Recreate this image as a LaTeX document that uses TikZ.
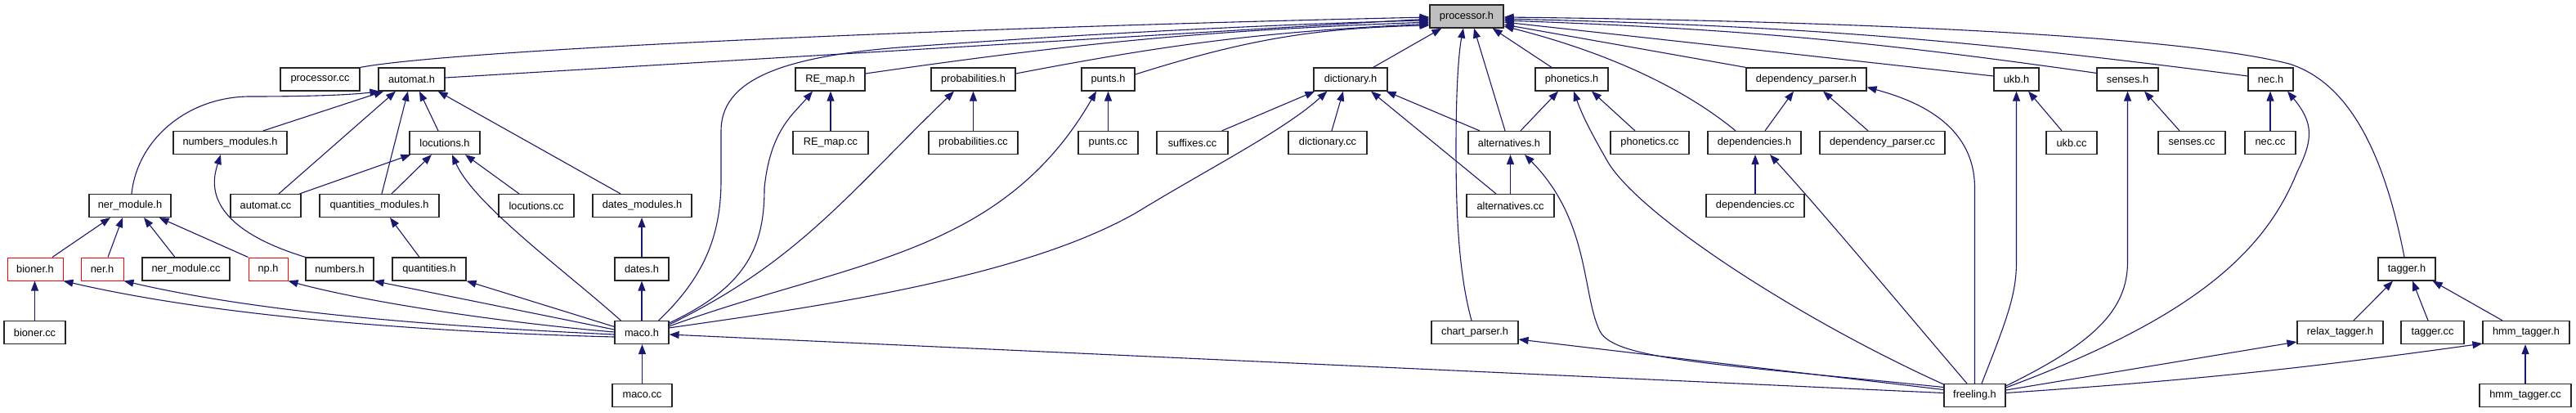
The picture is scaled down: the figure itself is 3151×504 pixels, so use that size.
\documentclass[tikz,border=0pt]{standalone}
\usepackage{fontspec}
\setmainfont{Liberation Sans}
\usetikzlibrary{arrows.meta}
\definecolor{edgeblue}{RGB}{25,25,112}
\definecolor{boxgray}{RGB}{191,191,191}
\newcommand\nodefont{\fontsize{12.8}{15}\selectfont}
\tikzset{
  box/.style={draw=black!85, line width=1.2pt, fill=white, minimum height=28pt, inner sep=0pt, font=\nodefont},
  redbox/.style={box, draw=red, line width=1pt},
  mainbox/.style={box, fill=boxgray},
  edge/.style={draw=edgeblue, line width=1.1pt, -{Triangle[length=12pt,width=9pt]}}
}
\begin{document}
\begin{tikzpicture}[x=1pt,y=-1pt]
\fill[white] (0,0) rectangle (3151,504);
\useasboundingbox (0,0) rectangle (3151,504);
% row 0
\node[mainbox, minimum width=90pt] (proch) at (1794,20) {processor.h};
% row 1
\node[box, minimum width=97pt] (proccc) at (391.5,97) {processor.cc};
\node[box, minimum width=81pt] (automath) at (503.5,97) {automat.h};
\node[box, minimum width=85pt] (REh) at (1015.5,97) {RE\_map.h};
\node[box, minimum width=103pt] (probh) at (1190.5,97) {probabilities.h};
\node[box, minimum width=65pt] (puntsh) at (1355.5,97) {punts.h};
\node[box, minimum width=90pt] (dicth) at (1652,97) {dictionary.h};
\node[box, minimum width=89pt] (phonh) at (1922.5,97) {phonetics.h};
\node[box, minimum width=147pt] (dpph) at (2209.5,97) {dependency\_parser.h};
\node[box, minimum width=55pt] (ukbh) at (2466.5,97) {ukb.h};
\node[box, minimum width=75pt] (sensh) at (2602.5,97) {senses.h};
\node[box, minimum width=55pt] (nech) at (2777.5,97) {nec.h};
% row 2
\node[box, minimum width=139pt] (numm) at (281.5,174.5) {numbers\_modules.h};
\node[box, minimum width=86pt] (loch) at (544,174.5) {locutions.h};
\node[box, minimum width=92pt] (REcc) at (1016,174.5) {RE\_map.cc};
\node[box, minimum width=109pt] (probcc) at (1190.5,174.5) {probabilities.cc};
\node[box, minimum width=73pt] (puntscc) at (1355.5,174.5) {punts.cc};
\node[box, minimum width=87pt] (suffcc) at (1458.5,174.5) {suffixes.cc};
\node[box, minimum width=96pt] (dictcc) at (1624,174.5) {dictionary.cc};
\node[box, minimum width=100pt] (alth) at (1846,174.5) {alternatives.h};
\node[box, minimum width=96pt] (phoncc) at (2018,174.5) {phonetics.cc};
\node[box, minimum width=114pt] (deph) at (2146,174.5) {dependencies.h};
\node[box, minimum width=153pt] (dppcc) at (2302.5,174.5) {dependency\_parser.cc};
\node[box, minimum width=62pt] (ukbcc) at (2534,174.5) {ukb.cc};
\node[box, minimum width=82pt] (senscc) at (2681,174.5) {senses.cc};
\node[box, minimum width=62pt] (necc) at (2777,174.5) {nec.cc};
% row 3
\node[box, minimum width=100pt] (nermh) at (159,251.5) {ner\_module.h};
\node[box, minimum width=86pt] (autocc) at (325,251.5) {automat.cc};
\node[box, minimum width=146pt] (qmod) at (464,251.5) {quantities\_modules.h};
\node[box, minimum width=92pt] (loccc) at (656,251.5) {locutions.cc};
\node[box, minimum width=121pt] (dmod) at (785.5,251.5) {dates\_modules.h};
\node[box, minimum width=107pt] (altcc) at (1847.5,251.5) {alternatives.cc};
\node[box, minimum width=120pt] (depcc) at (2147,251.5) {dependencies.cc};
% row 4
\node[redbox, minimum width=68pt] (bionerh) at (43,329) {bioner.h};
\node[redbox, minimum width=52pt] (nerh) at (125,329) {ner.h};
\node[box, minimum width=107pt] (nermcc) at (227.5,329) {ner\_module.cc};
\node[redbox, minimum width=48pt] (nph) at (328,329) {np.h};
\node[box, minimum width=83pt] (numh) at (415.5,329) {numbers.h};
\node[box, minimum width=90pt] (quanth) at (525,329) {quantities.h};
\node[box, minimum width=66pt] (datesh) at (785,329) {dates.h};
\node[box, minimum width=70pt] (taggerh) at (2944,329) {tagger.h};
% row 5
\node[box, minimum width=75pt] (bionercc) at (42.5,406.5) {bioner.cc};
\node[box, minimum width=66pt] (maco) at (785,406.5) {maco.h};
\node[box, minimum width=106pt] (chart) at (1804,406.5) {chart\_parser.h};
\node[box, minimum width=105pt] (relax) at (2862.5,406.5) {relax\_tagger.h};
\node[box, minimum width=77pt] (taggercc) at (2975.5,406.5) {tagger.cc};
\node[box, minimum width=106pt] (hmmh) at (3090,406.5) {hmm\_tagger.h};
% row 6
\node[box, minimum width=73pt] (macocc) at (785.5,483.5) {maco.cc};
\node[box, minimum width=75pt] (freeling) at (2415.5,483.5) {freeling.h};
\node[box, minimum width=112pt] (hmmcc) at (3089,483.5) {hmm\_tagger.cc};

% ---- edges into processor.h
\draw[edge] (proccc.north east) .. controls (560,60) and (1200,33) .. ([yshift=-1pt]proch.west);
\draw[edge] ([yshift=2pt]automath.east) -- ([yshift=-3pt]proch.west);
\draw[edge] ([xshift=-13pt]maco.north east) .. controls (860,340) and (882,290) .. (882,220) -- (882,160) .. controls (882,100) and (950,70) .. (1100,58) .. controls (1400,36) and (1650,27) .. ([yshift=-5pt]proch.west);
\draw[edge] ([yshift=7pt]REh.east) to[bend left=3] ([yshift=-7pt]proch.west);
\draw[edge] ([yshift=7pt]probh.east) to[bend left=4] ([yshift=-9pt]proch.west);
\draw[edge] ([yshift=6pt]puntsh.east) to[bend left=8] ([yshift=-11pt]proch.west);
\draw[edge] ([xshift=-18pt]dicth.north east) -- ([xshift=15pt]proch.south west);
\draw[edge] ([xshift=-4pt]chart.north) .. controls (1783,330) and (1781,250) .. (1781,180) .. controls (1781,100) and (1785,60) .. ([xshift=-4pt]proch.south);
\draw[edge] ([xshift=-5pt]alth.north) -- ([xshift=9pt]proch.south);
\draw[edge] ([xshift=-24.5pt]phonh.north) -- ([xshift=-14pt]proch.south east);
\draw[edge] ([xshift=-23pt]deph.north) .. controls (2050,100) and (1950,60) .. ([yshift=-12pt]proch.east);
\draw[edge] (dpph.north west) -- ([yshift=-10pt]proch.east);
\draw[edge] ([yshift=4pt]ukbh.west) -- ([yshift=-7pt]proch.east);
\draw[edge] ([yshift=-7pt]sensh.north west) to[bend right=3] ([yshift=-5pt]proch.east);
\draw[edge] ([yshift=4pt]nech.west) to[bend right=3] ([yshift=-3pt]proch.east);
\draw[edge] ([xshift=-3pt]taggerh.north) .. controls (2915,180) and (2870,100) .. (2800,78) .. controls (2650,40) and (2200,25) .. ([yshift=-1pt]proch.east);

% ---- automat.h
\draw[edge] ([xshift=2pt]nermh.north) .. controls (168,170) and (230,118) .. (306,118) .. controls (380,118) and (430,116) .. ([xshift=2pt]automath.south west);
\draw[edge] ([xshift=40.5pt]numm.north) -- ([xshift=7pt]automath.south west);
\draw[edge] ([xshift=16pt]autocc.north) -- ([xshift=-19.5pt]automath.south);
\draw[edge] ([xshift=3pt]qmod.north) -- ([xshift=-4.5pt]automath.south);
\draw[edge] ([xshift=-8pt]loch.north) -- ([xshift=9.5pt]automath.south);
\draw[edge] ([xshift=-26.5pt]dmod.north) -- ([xshift=-9pt]automath.south east);

% ---- locutions.h
\draw[edge] ([xshift=-2pt]autocc.north east) -- ([xshift=2pt]loch.south west);
\draw[edge] ([xshift=15pt]qmod.north) -- ([xshift=-16pt]loch.south);
\draw[edge] ([xshift=8pt]maco.north west) .. controls (690,330) and (580,250) .. ([xshift=9pt]loch.south);
\draw[edge] ([xshift=-21pt]loccc.north) -- ([xshift=25pt]loch.south);

% ---- numbers_modules.h, ner_module.h, etc.
\draw[edge] (numh.north west) .. controls (245,275) and (260,220) .. ([xshift=-11.5pt]numm.south);
\draw[edge] ([xshift=21pt]bionerh.north) -- ([xshift=-24pt]nermh.south);
\draw[edge] ([xshift=7pt]nerh.north) -- ([xshift=-9pt]nermh.south);
\draw[edge] ([xshift=-13.5pt]nermcc.north) -- ([xshift=17pt]nermh.south);
\draw[edge] (nph.north west) -- ([xshift=-15pt]nermh.south east);
\draw[edge] ([xshift=-12pt]quanth.north) -- ([xshift=13pt]qmod.south);
\draw[edge] (datesh.north) -- (datesh.north |- dmod.south);
\draw[edge] (maco.north) -- (datesh.south);
\draw[edge] (bionercc.north) -- (bionercc.north |- bionerh.south);
\draw[edge] (macocc.north) -- (macocc.north |- maco.south);

% ---- maco.h to the left
\draw[edge] ([yshift=-5.5pt]maco.west) .. controls (600,408) and (300,395) .. (bionerh.south east);
\draw[edge] ([yshift=-2.5pt]maco.west) .. controls (560,400) and (330,385) .. (nerh.south east);
\draw[edge] ([yshift=0.5pt]maco.west) .. controls (620,395) and (450,370) .. (nph.south east);
\draw[edge] ([yshift=3.5pt]maco.west) -- (numh.south east);
\draw[edge] ([yshift=7pt]maco.west) -- (quanth.south east);

% ---- maco.h to the right
\draw[edge] ([yshift=-3pt]maco.north east) .. controls (915,350) and (935,300) .. (935,230) .. controls (942,160) and (970,140) .. ([xshift=-21.5pt]REh.south);
\draw[edge] (REcc.north) -- (REcc.north |- REh.south);
\draw[edge] ([yshift=-5pt]maco.north east) .. controls (977,320) and (1040,234) .. ([xshift=-23.5pt]probh.south);
\draw[edge] (probcc.north) -- (probcc.north |- probh.south);
\draw[edge] ([yshift=-7pt]maco.north east) .. controls (1038,319) and (1224,314) .. ([xshift=-14.5pt]puntsh.south);
\draw[edge] (puntscc.north) -- (puntscc.north |- puntsh.south);
\draw[edge] ([yshift=-9pt]maco.north east) .. controls (1000,375) and (1250,340) .. (1390,260) .. controls (1480,205) and (1570,160) .. ([xshift=17pt]dicth.south west);

% ---- dictionary.h
\draw[edge] ([xshift=-8pt]suffcc.north east) -- ([xshift=2pt]dicth.south west);
\draw[edge] ([xshift=5pt]dictcc.north) -- ([xshift=-9pt]dicth.south);
\draw[edge] ([xshift=-17.5pt]altcc.north) -- ([xshift=25pt]dicth.south);
\draw[edge] ([xshift=-36pt]alth.north) -- ([xshift=-2pt]dicth.south east);

% ---- phonetics.h
\draw[edge] ([xshift=14pt]alth.north) -- ([xshift=-16.5pt]phonh.south);
\draw[edge] ([xshift=-18pt]phoncc.north) -- ([xshift=24.5pt]phonh.south);
\draw[edge] ([yshift=-1pt]freeling.north west) .. controls (2200,390) and (2000,260) .. (1965,195) .. controls (1945,160) and (1935,140) .. ([xshift=2.5pt]phonh.south);

% ---- dependencies
\draw[edge] ([xshift=13pt]deph.north) -- ([xshift=-15.5pt]dpph.south);
\draw[edge] ([xshift=-17.5pt]dppcc.north) -- ([xshift=20.5pt]dpph.south);
\draw[edge] (depcc.north) -- (depcc.north |- deph.south);
\draw[edge] (altcc.north) -- (altcc.north |- alth.south);

% ---- freeling.h
\draw[edge] ([yshift=10pt]freeling.west) .. controls (2100,445) and (1975,440) .. (1957,405) .. controls (1935,360) and (1945,270) .. ([xshift=19pt]alth.south);
\draw[edge] ([yshift=7pt]freeling.west) -- ([yshift=-8.5pt]chart.east);
\draw[edge] ([yshift=3pt]freeling.west) -- ([yshift=-2.5pt]maco.east);
\draw[edge] ([xshift=-9.5pt]freeling.north) .. controls (2330,380) and (2230,260) .. ([xshift=19pt]deph.south);
\draw[edge] (freeling.north) -- (2415.5,230) .. controls (2415.5,150) and (2340,122) .. ([yshift=5pt]dpph.south east);
\draw[edge] ([xshift=8.5pt]freeling.north) .. controls (2455,390) and (2466.5,360) .. (2466.5,320) -- (ukbh.south);
\draw[edge] ([xshift=-12pt]ukbcc.north) -- ([xshift=14.5pt]ukbh.south);
\draw[edge] ([yshift=-3pt]freeling.north east) .. controls (2560,420) and (2602.5,380) .. (2602.5,320) -- (sensh.south);
\draw[edge] ([xshift=-15pt]senscc.north) -- ([xshift=20.5pt]sensh.south);
\draw[edge] (necc.north) -- (necc.north |- nech.south);
\draw[edge] ([yshift=9.5pt]freeling.east) .. controls (2680,390) and (2770,310) .. (2810,210) .. controls (2830,170) and (2830,150) .. ([xshift=20.5pt]nech.south);

% ---- tagger
\draw[edge] ([xshift=16.5pt]relax.north) -- ([xshift=-17pt]taggerh.south);
\draw[edge] ([xshift=-5.5pt]taggercc.north) -- ([xshift=7pt]taggerh.south);
\draw[edge] ([xshift=-29pt]hmmh.north) -- ([xshift=-4pt]taggerh.south east);
\draw[edge] (hmmcc.north) -- (hmmcc.north |- hmmh.south);
\draw[edge] ([yshift=6.5pt]freeling.east) -- ([yshift=-11.5pt]relax.west);
\draw[edge] ([yshift=3pt]freeling.east) to[bend right=2] ([yshift=1pt]hmmh.south west);
\end{tikzpicture}
\end{document}
